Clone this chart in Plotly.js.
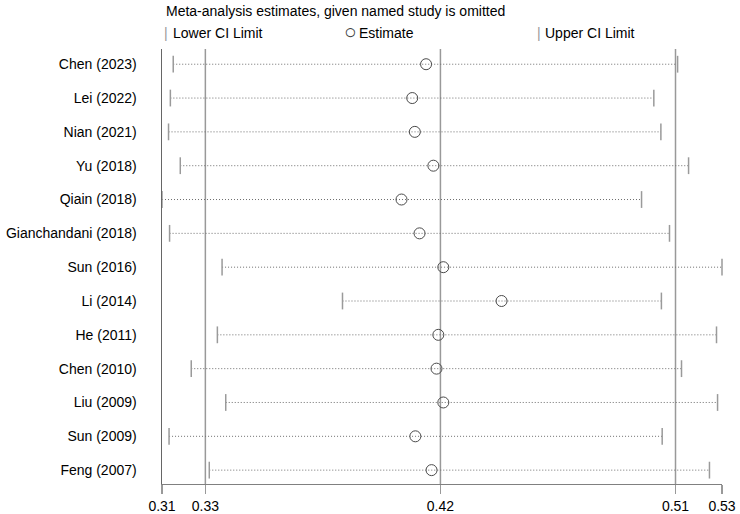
<!DOCTYPE html>
<html>
<head>
<meta charset="utf-8">
<script src="https://cdn.plot.ly/plotly-3.0.1.min.js"></script>
<style>
  html, body { margin: 0; padding: 0; background: #fff; }
  #chart { width: 740px; height: 514px; }
</style>
</head>
<body>
<div id="chart"></div>
<script>
// study omitted in each row, top to bottom
const studies = [
  "Chen (2023)", "Lei (2022)", "Nian (2021)", "Yu (2018)", "Qiain (2018)",
  "Gianchandani (2018)", "Sun (2016)", "Li (2014)", "He (2011)", "Chen (2010)",
  "Liu (2009)", "Sun (2009)", "Feng (2007)"
];
// pooled estimate and CI with the study left out
const lowerCI = [0.3187, 0.3176, 0.3169, 0.3214, 0.3144, 0.3173, 0.3374, 0.3835, 0.3356, 0.3256, 0.3388, 0.3171, 0.3325];
const estimate = [0.4155, 0.4102, 0.4112, 0.4183, 0.4061, 0.4130, 0.4221, 0.4444, 0.4202, 0.4195, 0.4221, 0.4114, 0.4176];
const upperCI = [0.5118, 0.5027, 0.5054, 0.5160, 0.4980, 0.5087, 0.5288, 0.5056, 0.5267, 0.5133, 0.5271, 0.5059, 0.5240];
// full-model lower CI, estimate, upper CI (reference lines)
const overall = [0.331, 0.421, 0.511];
const tickLabels = ["0.31", "0.33", "0.42", "0.51", "0.53"];

const xMin = Math.min(...lowerCI);
const xMax = Math.max(...upperCI);
const tickVals = [xMin, ...overall, xMax];

// dotted CI lines, one segment per study
const segX = [], segY = [];
studies.forEach((s, i) => {
  segX.push(lowerCI[i], upperCI[i], null);
  segY.push(s, s, null);
});

const font = { family: "Liberation Sans, Arial, sans-serif", size: 14, color: "#000" };

const data = [
  {
    x: segX, y: segY, mode: "lines", type: "scatter", hoverinfo: "skip",
    line: { color: "#6e6e6e", width: 1, dash: "1px,2px" }, cliponaxis: false
  },
  {
    x: lowerCI, y: studies, mode: "markers", type: "scatter", name: "Lower CI Limit",
    marker: { symbol: "line-ns", size: 12, line: { color: "#9a9a9a", width: 1.5 } }, cliponaxis: false
  },
  {
    x: upperCI, y: studies, mode: "markers", type: "scatter", name: "Upper CI Limit",
    marker: { symbol: "line-ns", size: 12, line: { color: "#9a9a9a", width: 1.5 } }, cliponaxis: false
  },
  {
    x: estimate, y: studies, mode: "markers", type: "scatter", name: "Estimate",
    marker: { symbol: "circle-open", size: 11, color: "#4a4a4a", line: { width: 1 } }, cliponaxis: false
  }
];

const shapes = overall.map(v => ({
  type: "line", xref: "x", yref: "paper", x0: v, x1: v, y0: 0, y1: 1,
  line: { color: "#999", width: 1.5 }, layer: "below"
}));

// title and legend row above the plot
const annotations = [
  { text: "Meta-analysis estimates, given named study is omitted", x: 0.003, y: 1.087 },
  { text: "|", x: 0.0, y: 1.037, font: { color: "#999" } },
  { text: "Lower CI Limit", x: 0.016, y: 1.037 },
  { text: "○", x: 0.322, y: 1.040, font: { size: 21, color: "#444" } },
  { text: "Estimate", x: 0.349, y: 1.037 },
  { text: "|", x: 0.666, y: 1.037, font: { color: "#999" } },
  { text: "Upper CI Limit", x: 0.681, y: 1.037 }
].map(a => Object.assign({
  xref: "paper", yref: "paper", xanchor: "left", yanchor: "middle",
  showarrow: false
}, a, { font: Object.assign({}, font, a.font || {}) }));

const layout = {
  width: 740, height: 514,
  margin: { l: 162, r: 18, t: 49, b: 30 },
  paper_bgcolor: "#fff", plot_bgcolor: "#fff",
  showlegend: false,
  font: font,
  xaxis: {
    range: [xMin, xMax], tickvals: tickVals, ticktext: tickLabels,
    showgrid: false, zeroline: false,
    showline: true, linecolor: "#808080", linewidth: 1,
    ticks: "outside", ticklen: 9, tickcolor: "#999", tickwidth: 1.5,
    tickfont: font
  },
  yaxis: {
    type: "category", categoryorder: "array", categoryarray: studies,
    range: [12.41, -0.45],
    showgrid: false, zeroline: false,
    showline: true, linecolor: "#666", linewidth: 1.5,
    ticks: "outside", ticklen: 21, tickcolor: "rgba(0,0,0,0)",
    tickfont: font
  },
  shapes: shapes,
  annotations: annotations,
  hovermode: false
};

Plotly.newPlot("chart", data, layout, { displayModeBar: false, staticPlot: true });
</script>
</body>
</html>
